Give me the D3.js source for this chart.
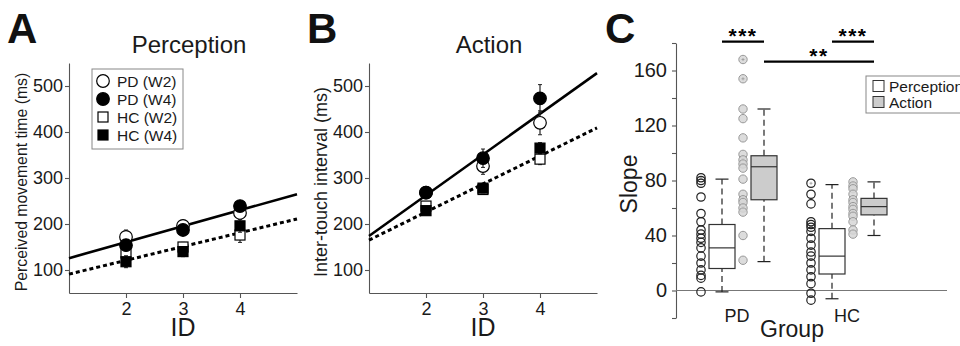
<!DOCTYPE html>
<html>
<head>
<meta charset="utf-8">
<script src="https://cdn.jsdelivr.net/npm/d3@7"></script>
<style>
  body { margin: 0; background: #fff; }
  svg { display: block; font-family: "Liberation Sans", Arial, sans-serif; }
</style>
</head>
<body>
<div id="chart"></div>
<script>
// ---- data ----
const ids = [2, 3, 4];
const yTicksAB = [100, 200, 300, 400, 500];
const seriesNames = ['PD (W2)', 'PD (W4)', 'HC (W2)', 'HC (W4)'];

// A: perception (ms), mean and error
const percPdW2 = [172, 196, 224];
const percPdW2Err = [15, 12, 14];
const percPdW4 = [154, 187, 239];
const percPdW4Err = [12, 12, 10];
const percHcW2 = [137, 150, 176];
const percHcW2Err = [12, 10, 16];
const percHcW4 = [118, 140, 196];
const percHcW4Err = [13, 11, 14];
const percFitPd = [91, 34.75];   // intercept, slope
const percFitHc = [61, 30];

// B: action (ms)
const actPdW2 = [268, 326, 420];
const actPdW2Err = [10, 18, 26];
const actPdW4 = [268, 343, 473];
const actPdW4Err = [10, 20, 30];
const actHcW2 = [239, 275, 341];
const actHcW2Err = [8, 10, 12];
const actHcW4 = [229, 278, 365];
const actHcW4Err = [8, 10, 12];
const actFitPd = [85.5, 88.5];
const actFitHc = [104, 61];

// C: slopes
const groups = ['PD', 'HC'];
const conditions = ['Perception', 'Action'];
const slopePdPerception = [82, 80, 78, 68, 56, 50, 44, 41, 38, 35, 31, 25, 20, 15, 11, 9, -1];
const slopePdAction = [168, 154, 132, 125, 111, 99, 95, 92, 89, 81, 70, 66, 64, 60, 57, 40, 22];
const slopeHcPerception = [78, 70, 63, 50, 48, 46, 43, 38, 33, 28, 25, 20, 15, 10, 5, -2, -7];
const slopeHcAction = [79, 76, 74, 70, 66, 64, 61, 59, 56, 54, 50, 44, 41];
// [low whisker, q1, median, q3, high whisker]
const boxPdPerception = [-1, 16, 31, 48, 81];
const boxPdAction = [21, 66, 90, 98, 132];
const boxHcPerception = [-6, 12, 25, 45, 77];
const boxHcAction = [40, 55, 61, 67, 79];
const slopeTicks = d3.range(-20, 181, 20);
const sigLabels = ['***', '***', '**'];
const sigFrom = [['PD', 'Perception'], ['HC', 'Perception'], ['PD', 'Action']];
const sigTo = [['PD', 'Action'], ['HC', 'Action'], ['HC', 'Action']];
const sigLevel = [181, 181, 166.5];

const svg = d3.select('#chart').append('svg')
        .attr('width', 960)
        .attr('height', 346);

const styleAxis = (sel, size) => {
        sel.selectAll('path, line').attr('stroke', '#555').attr('stroke-width', 1.1);
        sel.selectAll('text').attr('font-size', size).attr('fill', '#1a1a1a')
                .attr('font-family', '"Liberation Sans", Arial, sans-serif');
};

const drawMarker = (g, shape, filled, cx, cy) => {
        if (shape === 'circle') {
                g.append('circle').attr('cx', cx).attr('cy', cy).attr('r', 6.3)
                        .attr('fill', filled ? '#000' : '#fff').attr('stroke', '#000').attr('stroke-width', 1.2);
        } else {
                g.append('rect').attr('x', cx - 5).attr('y', cy - 5).attr('width', 10).attr('height', 10)
                        .attr('fill', filled ? '#000' : '#fff').attr('stroke', '#000').attr('stroke-width', 1.2);
        }
};

const shapes = ['circle', 'circle', 'rect', 'rect'];
const fills = [false, true, false, true];

const drawPanel = (left, letter, title, yLabel, yLabelSize, means, errs, fits, withLegend) => {
        const x = d3.scaleLinear().domain([1, 5]).range([left, left + 228]);
        const y = d3.scaleLinear().domain([50, 550]).range([293, 63]);
        const g = svg.append('g');

        g.append('g').attr('transform', `translate(${left},0)`)
                .call(d3.axisLeft(y).tickValues(yTicksAB).tickSize(4).tickSizeOuter(0).tickPadding(2))
                .call(styleAxis, 18);
        g.append('g').attr('transform', 'translate(0,293)')
                .call(d3.axisBottom(x).tickValues(ids).tickFormat(d3.format('d'))
                        .tickSize(5).tickSizeOuter(0).tickPadding(4))
                .call(styleAxis, 18);

        // fitted lines: PD solid, HC dotted
        fits.forEach((f, i) => {
                g.append('path')
                .datum([1, 5])
                .attr('d', d3.line().x(d => x(d)).y(d => y(f[0] + f[1] * d)))
                .attr('stroke', '#000')
                .attr('stroke-width', i === 0 ? 2.6 : 3)
                .attr('stroke-dasharray', i === 0 ? null : '4,3')
                .attr('fill', 'none');
        });

        // draw order: HC first, PD on top
        [2, 3, 0, 1].forEach(s => {
                means[s].forEach((m, k) => {
                        const cx = x(ids[k]);
                        g.append('line').attr('x1', cx).attr('x2', cx)
                                .attr('y1', y(m - errs[s][k])).attr('y2', y(m + errs[s][k]))
                                .attr('stroke', '#222').attr('stroke-width', 1.2);
                        [m - errs[s][k], m + errs[s][k]].forEach(v => {
                                g.append('line').attr('x1', cx - 2).attr('x2', cx + 2)
                                        .attr('y1', y(v)).attr('y2', y(v))
                                        .attr('stroke', '#222').attr('stroke-width', 1);
                        });
                        drawMarker(g, shapes[s], fills[s], cx, y(m));
                });
        });

        g.append('text').attr('x', left + 120).attr('y', 53).attr('text-anchor', 'middle')
                .attr('font-size', 24).attr('fill', '#1a1a1a').text(title);
        g.append('text').attr('x', left + 114).attr('y', 336).attr('text-anchor', 'middle')
                .attr('font-size', 25).attr('fill', '#1a1a1a').text('ID');
        g.append('text').attr('transform', `translate(${left - 42},182) rotate(-90)`)
                .attr('text-anchor', 'middle').attr('font-size', yLabelSize).attr('fill', '#1a1a1a').text(yLabel);
        g.append('text').attr('x', left - 62).attr('y', 43)
                .attr('font-size', 42).attr('font-weight', 'bold').attr('fill', '#111').text(letter);

        if (withLegend) {
                const lg = g.append('g').attr('transform', `translate(${left + 23},69)`);
                lg.append('rect').attr('width', 91).attr('height', 80)
                        .attr('fill', '#fff').attr('stroke', '#888').attr('stroke-width', 1);
                seriesNames.forEach((n, i) => {
                        drawMarker(lg, shapes[i], fills[i], 11, 12 + i * 18);
                        lg.append('text').attr('x', 25).attr('y', 17.5 + i * 18)
                                .attr('font-size', 15.5).attr('fill', '#1a1a1a').text(n);
                });
        }
};

drawPanel(69, 'A', 'Perception', 'Perceived movement time (ms)', 15.8,
        [percPdW2, percPdW4, percHcW2, percHcW4],
        [percPdW2Err, percPdW4Err, percHcW2Err, percHcW4Err],
        [percFitPd, percFitHc], true);

drawPanel(369, 'B', 'Action', 'Inter-touch interval (ms)', 18,
        [actPdW2, actPdW4, actHcW2, actHcW4],
        [actPdW2Err, actPdW4Err, actHcW2Err, actHcW4Err],
        [actFitPd, actFitHc], false);

// ---- panel C ----
const cy = d3.scaleLinear().domain([-20, 180]).range([318, 43]);
const gx = d3.scalePoint().domain(groups).range([739, 849]);
const boxX = (grp, cond) => gx(grp) + (cond === 'Perception' ? -17 : 25);
const dotX = (grp, cond) => gx(grp) + (cond === 'Perception' ? -38 : 4);
const boxW = 26;

const cg = svg.append('g');

cg.append('g').attr('transform', 'translate(676,0)')
        .call(d3.axisLeft(cy).tickValues(slopeTicks).tickSize(4).tickSizeOuter(0).tickPadding(5)
                .tickFormat(d => (d >= 0 && d % 40 === 0) ? d : ''))
        .call(styleAxis, 20);

cg.append('line').attr('x1', 676).attr('x2', 947)
        .attr('y1', cy(0)).attr('y2', cy(0))
        .attr('stroke', '#777').attr('stroke-width', 1);

const cells = [
        { grp: 'PD', cond: 'Perception', vals: slopePdPerception, box: boxPdPerception },
        { grp: 'PD', cond: 'Action', vals: slopePdAction, box: boxPdAction },
        { grp: 'HC', cond: 'Perception', vals: slopeHcPerception, box: boxHcPerception },
        { grp: 'HC', cond: 'Action', vals: slopeHcAction, box: boxHcAction }
];

cells.forEach(c => {
        const isAct = c.cond === 'Action';
        const dx = dotX(c.grp, c.cond);
        c.vals.forEach(v => {
                cg.append('circle').attr('cx', dx).attr('cy', cy(v)).attr('r', 4.2)
                        .attr('fill', isAct ? '#d6d6d6' : 'none')
                        .attr('fill-opacity', isAct ? 0.85 : 1)
                        .attr('stroke', isAct ? '#999' : '#222')
                        .attr('stroke-width', isAct ? 1 : 1.2);
                if (v > c.box[4]) {
                        cg.append('path')
                        .attr('d', `M${dx - 1.5},${cy(v)}h3M${dx},${cy(v) - 1.5}v3`)
                        .attr('stroke', '#999').attr('stroke-width', 0.8);
                }
        });

        const bx = boxX(c.grp, c.cond);
        const [lo, q1, med, q3, hi] = c.box;
        // whiskers
        [[lo, q1], [q3, hi]].forEach(([a, b]) => {
                cg.append('line').attr('x1', bx).attr('x2', bx)
                        .attr('y1', cy(a)).attr('y2', cy(b))
                        .attr('stroke', '#222').attr('stroke-width', 1.2).attr('stroke-dasharray', '6,4');
        });
        [lo, hi].forEach(v => {
                cg.append('line').attr('x1', bx - 6.5).attr('x2', bx + 6.5)
                        .attr('y1', cy(v)).attr('y2', cy(v))
                        .attr('stroke', '#222').attr('stroke-width', 1.2);
        });
        cg.append('rect').attr('x', bx - boxW / 2).attr('y', cy(q3))
                .attr('width', boxW).attr('height', cy(q1) - cy(q3))
                .attr('fill', isAct ? '#cccccc' : '#fff')
                .attr('stroke', '#333').attr('stroke-width', 1.2);
        cg.append('line').attr('x1', bx - boxW / 2).attr('x2', bx + boxW / 2)
                .attr('y1', cy(med)).attr('y2', cy(med))
                .attr('stroke', '#333').attr('stroke-width', 1.2);
});

// significance bars
sigLabels.forEach((lab, i) => {
        const x1 = boxX(sigFrom[i][0], sigFrom[i][1]);
        const x2 = boxX(sigTo[i][0], sigTo[i][1]);
        cg.append('line').attr('x1', x1).attr('x2', x2)
                .attr('y1', cy(sigLevel[i])).attr('y2', cy(sigLevel[i]))
                .attr('stroke', '#000').attr('stroke-width', 2.2);
        cg.append('text').attr('x', (x1 + x2) / 2).attr('y', cy(sigLevel[i]) + 1)
                .attr('text-anchor', 'middle').attr('font-size', 21).attr('font-weight', 'bold')
                .attr('letter-spacing', 1.5).attr('fill', '#000').text(lab);
});

groups.forEach(grp => {
        cg.append('text').attr('x', gx(grp) - 2).attr('y', 322).attr('text-anchor', 'middle')
                .attr('font-size', 18).attr('fill', '#1a1a1a').text(grp);
});
cg.append('text').attr('x', 792).attr('y', 337).attr('text-anchor', 'middle')
        .attr('font-size', 23).attr('fill', '#1a1a1a').text('Group');
cg.append('text').attr('transform', 'translate(637,184) rotate(-90)')
        .attr('text-anchor', 'middle').attr('font-size', 23).attr('fill', '#1a1a1a').text('Slope');
cg.append('text').attr('x', 605).attr('y', 43)
        .attr('font-size', 42).attr('font-weight', 'bold').attr('fill', '#111').text('C');

const cl = cg.append('g').attr('transform', 'translate(866,76)');
cl.append('rect').attr('width', 110).attr('height', 37)
        .attr('fill', '#fff').attr('stroke', '#888').attr('stroke-width', 1);
conditions.forEach((cond, i) => {
        cl.append('rect').attr('x', 7).attr('y', 4.5 + i * 16).attr('width', 11).attr('height', 11)
                .attr('fill', i === 0 ? '#fff' : '#cccccc').attr('stroke', '#333').attr('stroke-width', 1);
        cl.append('text').attr('x', 23).attr('y', 15.5 + i * 16)
                .attr('font-size', 15.5).attr('fill', '#1a1a1a').text(cond);
});
</script>
</body>
</html>
